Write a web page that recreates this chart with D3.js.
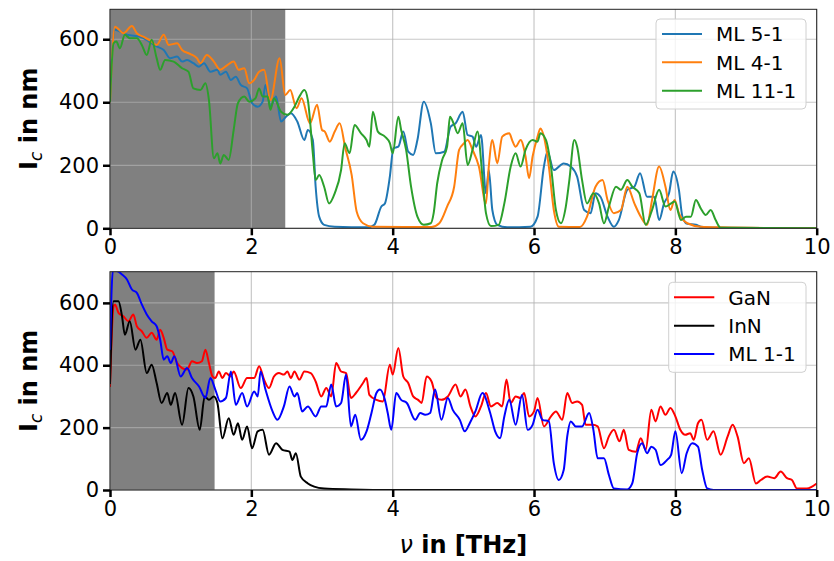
<!DOCTYPE html>
<html>
<head>
<meta charset="utf-8">
<script src="https://cdn.jsdelivr.net/npm/d3@7"></script>
<style>
  html, body { margin: 0; padding: 0; background: #fff; }
  svg { display: block; font-family: "DejaVu Sans", sans-serif; }
</style>
</head>
<body>
<svg id="chart" width="834" height="561"></svg>
<script>
// ---- data: critical length I_c (nm) versus frequency ν (THz) ----
const xTicks = [0, 2, 4, 6, 8, 10];
const yTicks = [0, 200, 400, 600];

const ml51Freq = [0, 0.07, 0.24, 0.43, 0.55, 0.66, 0.76, 0.85, 0.95, 1.02, 1.09, 1.18, 1.26, 1.33, 1.42, 1.52, 1.56, 1.64, 1.71, 1.78, 1.85, 1.94, 2.01, 2.09, 2.16, 2.20, 2.27, 2.35, 2.42, 2.49, 2.56, 2.65, 2.75, 2.80, 2.87, 2.91, 2.96, 3.03, 3.18, 3.65, 3.74, 3.84, 3.89, 3.96, 4.01, 4.08, 4.15, 4.22, 4.29, 4.35, 4.44, 4.54, 4.61, 4.73, 4.82, 4.89, 4.99, 5.06, 5.13, 5.18, 5.25, 5.32, 5.36, 5.41, 5.48, 5.62, 5.95, 6.05, 6.14, 6.19, 6.28, 6.42, 6.52, 6.61, 6.71, 6.80, 6.87, 6.94, 7.04, 7.13, 7.20, 7.32, 7.42, 7.50, 7.60, 7.70, 7.77, 7.84, 7.91, 7.97, 8.05, 8.10, 8.17, 8.29, 8.36, 8.59, 10];
const ml51Ic   = [420, 630, 614, 608, 593, 577, 566, 540, 545, 529, 534, 524, 513, 524, 497, 503, 487, 497, 471, 481, 455, 444, 397, 386, 402, 455, 386, 418, 339, 354, 365, 339, 280, 312, 280, 132, 37, 11, 5, 3, 11, 69, 79, 164, 254, 259, 307, 243, 233, 280, 402, 333, 238, 243, 323, 333, 370, 296, 291, 259, 296, 111, 185, 58, 11, 3, 5, 37, 196, 243, 185, 206, 196, 164, 58, 48, 111, 100, 37, 5, 26, 122, 132, 175, 100, 100, 26, 79, 111, 180, 122, 37, 14, 11, 5, 2, 0];

const ml41Freq = [0, 0.07, 0.19, 0.31, 0.38, 0.47, 0.57, 0.66, 0.76, 0.83, 0.95, 1.02, 1.14, 1.23, 1.28, 1.37, 1.47, 1.56, 1.66, 1.75, 1.82, 1.90, 1.97, 2.04, 2.11, 2.18, 2.27, 2.40, 2.48, 2.55, 2.64, 2.71, 2.83, 2.93, 3.00, 3.04, 3.11, 3.18, 3.25, 3.33, 3.42, 3.49, 3.58, 3.72, 4.55, 4.66, 4.77, 4.87, 4.94, 5.01, 5.06, 5.13, 5.22, 5.32, 5.36, 5.41, 5.48, 5.55, 5.65, 5.69, 5.74, 5.81, 5.88, 5.93, 5.98, 6.05, 6.09, 6.14, 6.21, 6.28, 6.35, 6.65, 6.75, 6.87, 6.97, 7.04, 7.13, 7.23, 7.32, 7.42, 7.51, 7.60, 7.67, 7.77, 7.86, 7.93, 7.99, 8.05, 8.17, 8.36, 8.64, 10];
const ml41Ic   = [400, 640, 619, 642, 619, 608, 596, 582, 614, 582, 587, 566, 553, 540, 524, 550, 529, 503, 518, 529, 503, 508, 460, 471, 497, 503, 407, 540, 423, 439, 381, 413, 333, 392, 312, 307, 275, 307, 333, 254, 169, 53, 16, 5, 4, 16, 69, 132, 249, 270, 280, 249, 196, 79, 196, 280, 206, 291, 302, 280, 259, 280, 228, 159, 228, 291, 317, 291, 196, 58, 5, 4, 37, 132, 153, 90, 48, 58, 132, 79, 37, 11, 90, 196, 132, 58, 90, 48, 16, 5, 3, 0];

const ml111Freq = [0, 0.05, 0.09, 0.14, 0.21, 0.28, 0.38, 0.45, 0.52, 0.59, 0.66, 0.71, 0.78, 0.90, 1.02, 1.11, 1.18, 1.28, 1.35, 1.40, 1.47, 1.52, 1.56, 1.61, 1.68, 1.75, 1.81, 1.90, 1.97, 2.06, 2.11, 2.16, 2.23, 2.27, 2.32, 2.42, 2.51, 2.61, 2.68, 2.75, 2.80, 2.87, 2.91, 2.96, 3.03, 3.10, 3.18, 3.27, 3.32, 3.39, 3.46, 3.55, 3.63, 3.67, 3.72, 3.79, 3.89, 3.96, 4.00, 4.08, 4.12, 4.19, 4.26, 4.35, 4.44, 4.54, 4.58, 4.63, 4.70, 4.77, 4.81, 4.87, 4.92, 4.99, 5.06, 5.13, 5.20, 5.27, 5.32, 5.39, 5.50, 5.58, 5.67, 5.74, 5.81, 5.88, 5.98, 6.05, 6.09, 6.17, 6.24, 6.31, 6.38, 6.45, 6.50, 6.57, 6.61, 6.68, 6.75, 6.84, 6.92, 6.99, 7.06, 7.16, 7.23, 7.32, 7.39, 7.49, 7.58, 7.67, 7.77, 7.86, 7.94, 7.99, 8.08, 8.15, 8.22, 8.29, 8.36, 8.43, 8.50, 8.57, 8.64, 10];
const ml111Ic   = [400, 587, 593, 571, 614, 603, 603, 582, 550, 598, 540, 503, 534, 529, 508, 497, 444, 439, 460, 407, 222, 238, 206, 233, 217, 312, 397, 418, 402, 413, 444, 418, 418, 376, 413, 370, 360, 386, 418, 439, 407, 238, 153, 169, 132, 79, 111, 185, 270, 238, 328, 302, 280, 259, 370, 307, 291, 270, 238, 354, 312, 249, 132, 37, 11, 16, 48, 143, 217, 259, 354, 328, 302, 333, 201, 249, 307, 164, 48, 7, 11, 79, 196, 238, 196, 249, 280, 275, 302, 280, 196, 58, 16, 69, 153, 280, 259, 153, 79, 111, 79, 16, 69, 132, 122, 153, 132, 111, 11, 58, 122, 69, 79, 85, 26, 37, 37, 90, 63, 42, 58, 26, 2, 0];

const ganFreq = [0, 0.05, 0.07, 0.12, 0.19, 0.26, 0.33, 0.38, 0.45, 0.52, 0.59, 0.66, 0.71, 0.76, 0.81, 0.88, 0.95, 1.02, 1.09, 1.16, 1.23, 1.30, 1.35, 1.40, 1.45, 1.49, 1.54, 1.59, 1.64, 1.71, 1.75, 1.85, 1.94, 2.04, 2.11, 2.18, 2.25, 2.32, 2.39, 2.46, 2.51, 2.56, 2.61, 2.68, 2.75, 2.84, 2.91, 2.99, 3.06, 3.13, 3.20, 3.27, 3.34, 3.41, 3.48, 3.58, 3.63, 3.67, 3.77, 3.86, 3.96, 4.00, 4.08, 4.15, 4.22, 4.29, 4.36, 4.41, 4.48, 4.55, 4.62, 4.69, 4.78, 4.89, 4.96, 5.03, 5.10, 5.17, 5.25, 5.32, 5.39, 5.48, 5.55, 5.61, 5.67, 5.74, 5.81, 5.86, 5.93, 6.00, 6.05, 6.14, 6.24, 6.31, 6.40, 6.47, 6.54, 6.61, 6.68, 6.73, 6.83, 6.90, 6.99, 7.06, 7.13, 7.21, 7.27, 7.34, 7.44, 7.51, 7.58, 7.66, 7.72, 7.79, 7.86, 7.93, 8.00, 8.07, 8.14, 8.21, 8.26, 8.32, 8.37, 8.45, 8.54, 8.64, 8.74, 8.81, 8.88, 8.97, 9.04, 9.14, 9.21, 9.30, 9.40, 9.49, 9.58, 9.65, 9.72, 9.86, 10];
const ganIc   = [330, 589, 595, 568, 557, 541, 563, 525, 509, 488, 504, 482, 514, 488, 450, 445, 407, 391, 386, 413, 407, 413, 450, 407, 364, 359, 380, 359, 375, 364, 380, 327, 359, 359, 397, 354, 327, 364, 375, 370, 380, 359, 380, 354, 380, 375, 348, 300, 327, 300, 407, 380, 375, 295, 311, 343, 359, 305, 289, 284, 402, 370, 455, 364, 343, 300, 289, 279, 364, 348, 295, 289, 300, 338, 300, 322, 268, 236, 268, 311, 268, 279, 268, 354, 279, 300, 295, 311, 236, 252, 295, 204, 236, 252, 225, 311, 279, 284, 273, 209, 209, 204, 134, 172, 193, 156, 193, 129, 123, 166, 129, 257, 220, 268, 241, 263, 236, 193, 177, 182, 161, 214, 225, 161, 188, 113, 172, 209, 172, 86, 102, 21, 32, 43, 38, 59, 38, 32, 5, 5, 21];

const innFreq = [0, 0.05, 0.12, 0.17, 0.21, 0.28, 0.36, 0.43, 0.52, 0.59, 0.66, 0.73, 0.81, 0.86, 0.92, 1.02, 1.11, 1.18, 1.27, 1.34, 1.40, 1.47, 1.52, 1.59, 1.68, 1.75, 1.81, 1.87, 1.94, 2.01, 2.09, 2.16, 2.25, 2.35, 2.44, 2.54, 2.58, 2.63, 2.70, 2.80, 2.89, 3.03, 3.41, 4.0, 10];
const innIc   = [340, 605, 605, 557, 498, 541, 450, 482, 375, 402, 343, 279, 311, 273, 311, 209, 327, 300, 193, 300, 289, 300, 279, 166, 230, 177, 214, 161, 204, 134, 188, 193, 113, 150, 129, 123, 96, 118, 43, 21, 11, 5, 2, 0, 0];

const ml11Freq = [0, 0.04, 0.09, 0.17, 0.24, 0.31, 0.38, 0.45, 0.52, 0.59, 0.66, 0.71, 0.76, 0.81, 0.86, 0.91, 1.00, 1.09, 1.16, 1.26, 1.35, 1.42, 1.49, 1.56, 1.64, 1.71, 1.78, 1.87, 1.94, 2.04, 2.09, 2.13, 2.20, 2.30, 2.37, 2.46, 2.54, 2.61, 2.65, 2.72, 2.80, 2.91, 2.99, 3.06, 3.13, 3.20, 3.27, 3.34, 3.41, 3.47, 3.55, 3.63, 3.70, 3.77, 3.82, 3.89, 3.93, 3.98, 4.05, 4.12, 4.20, 4.32, 4.39, 4.46, 4.53, 4.60, 4.69, 4.78, 4.85, 4.95, 5.02, 5.09, 5.17, 5.27, 5.38, 5.45, 5.52, 5.58, 5.65, 5.74, 5.83, 5.91, 5.98, 6.05, 6.12, 6.21, 6.28, 6.35, 6.42, 6.47, 6.52, 6.59, 6.68, 6.78, 6.84, 6.90, 6.99, 7.06, 7.13, 7.32, 7.39, 7.46, 7.53, 7.60, 7.66, 7.72, 7.79, 7.88, 7.94, 8.00, 8.09, 8.16, 8.24, 8.32, 8.38, 8.45, 8.54, 10];
const ml11Ic   = [450, 702, 702, 691, 675, 643, 632, 595, 563, 541, 525, 482, 418, 429, 407, 429, 364, 391, 359, 332, 295, 359, 322, 284, 295, 380, 273, 311, 268, 316, 300, 380, 322, 252, 225, 268, 332, 300, 311, 252, 268, 236, 268, 268, 338, 268, 279, 370, 204, 241, 161, 188, 247, 311, 322, 289, 247, 193, 311, 289, 279, 225, 247, 241, 247, 322, 225, 295, 257, 225, 188, 214, 252, 311, 247, 188, 166, 236, 289, 209, 305, 193, 209, 257, 225, 220, 86, 32, 64, 172, 220, 204, 204, 247, 193, 102, 102, 48, 5, 2, 21, 118, 150, 118, 139, 129, 80, 96, 113, 188, 54, 118, 150, 139, 64, 5, 0, 0];

const topSeries = [
  { name: "ML 5-1",  color: "#1f77b4", freq: ml51Freq,  ic: ml51Ic },
  { name: "ML 4-1",  color: "#ff7f0e", freq: ml41Freq,  ic: ml41Ic },
  { name: "ML 11-1", color: "#2ca02c", freq: ml111Freq, ic: ml111Ic }
];
const bottomSeries = [
  { name: "GaN",    color: "#ff0000", freq: ganFreq,  ic: ganIc },
  { name: "InN",    color: "#000000", freq: innFreq,  ic: innIc },
  { name: "ML 1-1", color: "#0000ff", freq: ml11Freq, ic: ml11Ic }
];

// ---- layout ----
const svg = d3.select("#chart");
const left = 110, right = 816.7;

const panels = [
  { top: 9.3,   bottom: 228.3, yMax: 695, shade: 2.48, series: topSeries,
    legend: { x: 656, y: 19, w: 150, h: 90, lineX0: 662, lineX1: 702, textX: 716, rows: [34, 62.3, 90.7] } },
  { top: 271.7, bottom: 490,   yMax: 700, shade: 1.48, series: bottomSeries,
    legend: { x: 668.7, y: 282.3, w: 137.3, h: 90, lineX0: 674, lineX1: 714.3, textX: 728.3, rows: [297.3, 325.7, 354] } }
];

const x = d3.scaleLinear().domain([0, 10]).range([left, right]);

panels.forEach((p, i) => {
  const y = d3.scaleLinear().domain([0, p.yMax]).range([p.bottom, p.top]);
  const g = svg.append("g");

  const clipId = "clip" + i;
  svg.append("defs").append("clipPath").attr("id", clipId)
    .append("rect").attr("x", left).attr("y", p.top)
    .attr("width", right - left).attr("height", p.bottom - p.top);

  // shaded band
  g.append("rect")
    .attr("x", x(0)).attr("y", p.top)
    .attr("width", x(p.shade) - x(0)).attr("height", p.bottom - p.top)
    .attr("fill", "#808080");

  // grid
  const grid = g.append("g").attr("stroke", "#b0b0b0").attr("stroke-opacity", 0.7).attr("stroke-width", 1.2);
  xTicks.forEach(t => grid.append("line").attr("x1", x(t)).attr("x2", x(t)).attr("y1", p.top).attr("y2", p.bottom));
  yTicks.forEach(t => grid.append("line").attr("x1", left).attr("x2", right).attr("y1", y(t)).attr("y2", y(t)));

  // lines
  const line = d3.line().x(d => x(d[0])).y(d => y(d[1])).curve(d3.curveMonotoneX);
  const lg = g.append("g").attr("clip-path", `url(#${clipId})`);
  p.series.forEach(s => {
    lg.append("path")
      .datum(s.freq.map((f, k) => [f, s.ic[k]]))
      .attr("d", line)
      .attr("fill", "none")
      .attr("stroke", s.color)
      .attr("stroke-width", 2)
      .attr("stroke-linejoin", "round");
  });

  // frame
  g.append("rect").attr("x", left).attr("y", p.top)
    .attr("width", right - left).attr("height", p.bottom - p.top)
    .attr("fill", "none").attr("stroke", "#222").attr("stroke-width", 1);

  // axes
  const xAxis = g.append("g").attr("transform", `translate(0,${p.bottom})`)
    .call(d3.axisBottom(x).tickValues(xTicks).tickSize(7).tickPadding(4).tickFormat(d3.format("d")));
  const yAxis = g.append("g").attr("transform", `translate(${left},0)`)
    .call(d3.axisLeft(y).tickValues(yTicks).tickSize(7).tickPadding(4).tickFormat(d3.format("d")));
  [xAxis, yAxis].forEach(a => {
    a.select(".domain").remove();
    a.selectAll(".tick line").attr("stroke", "#000").attr("stroke-width", 2.5);
    a.selectAll(".tick text").attr("font-size", 21).attr("fill", "#000")
      .attr("font-family", "DejaVu Sans");
  });

  // y label
  const yl = g.append("text")
    .attr("transform", `translate(37,${(p.top + p.bottom) / 2}) rotate(-90)`)
    .attr("text-anchor", "middle")
    .attr("font-size", 24).attr("font-weight", "bold").attr("fill", "#000");
  yl.append("tspan").text("I");
  yl.append("tspan").attr("font-style", "italic").attr("font-weight", "normal")
    .attr("font-size", 17).attr("dy", 5).text("c");
  yl.append("tspan").attr("dy", -5).text(" in nm");

  // legend
  const L = p.legend;
  const leg = g.append("g");
  leg.append("rect").attr("x", L.x).attr("y", L.y).attr("width", L.w).attr("height", L.h)
    .attr("rx", 4).attr("fill", "#fff").attr("fill-opacity", 0.8)
    .attr("stroke", "#d0d0d0").attr("stroke-width", 1);
  p.series.forEach((s, k) => {
    leg.append("line").attr("x1", L.lineX0).attr("x2", L.lineX1)
      .attr("y1", L.rows[k]).attr("y2", L.rows[k])
      .attr("stroke", s.color).attr("stroke-width", 2);
    leg.append("text").attr("x", L.textX).attr("y", L.rows[k])
      .attr("dy", "0.36em").attr("font-size", 20).attr("fill", "#000").text(s.name);
  });
});

// x label
const xl = svg.append("text")
  .attr("x", (left + right) / 2).attr("y", 553)
  .attr("text-anchor", "middle").attr("font-size", 24).attr("font-weight", "bold").attr("fill", "#000");
xl.append("tspan").attr("font-style", "italic").attr("font-weight", "normal").text("ν");
xl.append("tspan").text(" in [THz]");
</script>
</body>
</html>
